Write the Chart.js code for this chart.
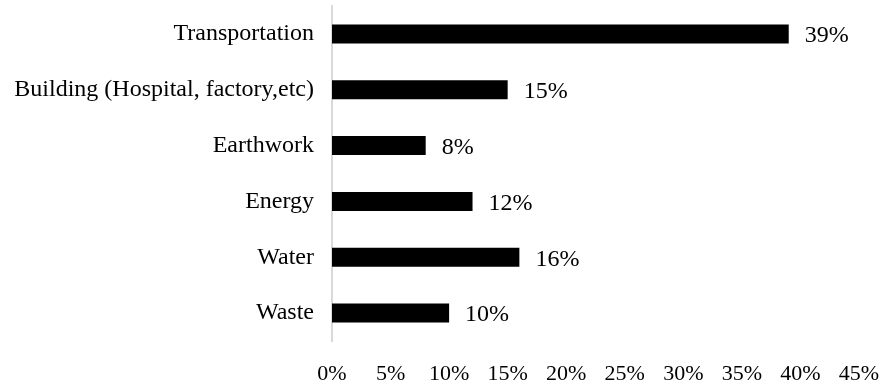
<!DOCTYPE html>
<html>
<head>
<meta charset="utf-8">
<script src="https://cdn.jsdelivr.net/npm/chart.js@4/dist/chart.umd.min.js"></script>
<style>
  html, body { margin: 0; padding: 0; background: #ffffff; }
  #wrap { width: 880px; height: 386px; position: relative; }
</style>
</head>
<body>
<div id="wrap"><canvas id="chart"></canvas></div>
<script>
const categories = [
  "Transportation",
  "Building (Hospital, factory,etc)",
  "Earthwork",
  "Energy",
  "Water",
  "Waste"
];
const shares = [39, 15, 8, 12, 16, 10];
const xTicks = [0, 5, 10, 15, 20, 25, 30, 35, 40, 45];

const FONT = "'Liberation Serif', 'Times New Roman', serif";

// writes the percentage just past the end of each bar
const barValueLabels = {
  id: "barValueLabels",
  afterDatasetsDraw(chart) {
    const ctx = chart.ctx;
    const meta = chart.getDatasetMeta(0);
    ctx.save();
    ctx.font = "24px " + FONT;
    ctx.fillStyle = "#000000";
    ctx.textAlign = "left";
    ctx.textBaseline = "middle";
    meta.data.forEach((bar, i) => {
      ctx.fillText(shares[i] + "%", bar.x + 16, bar.y + 2);
    });
    ctx.restore();
  }
};

new Chart(document.getElementById("chart"), {
  type: "bar",
  data: {
    labels: categories,
    datasets: [
      {
        data: shares,
        backgroundColor: "#000000",
        borderWidth: 0,
        categoryPercentage: 1,
        barPercentage: 0.34
      }
    ]
  },
  options: {
    indexAxis: "y",
    responsive: true,
    maintainAspectRatio: false,
    animation: false,
    layout: {
      autoPadding: false,
      padding: { top: 6, right: 21, left: 0, bottom: 0 }
    },
    plugins: {
      legend: { display: false },
      tooltip: { enabled: false }
    },
    scales: {
      x: {
        min: 0,
        max: 45,
        afterBuildTicks(scale) {
          scale.ticks = xTicks.map((v) => ({ value: v }));
        },
        afterFit(scale) {
          scale.height = 45;
          scale.paddingLeft = 0;
          scale.paddingRight = 0;
        },
        ticks: {
          callback: (value) => value + "%",
          color: "#000000",
          font: { family: FONT, size: 22 },
          padding: 20,
          maxRotation: 0,
          autoSkip: false
        },
        grid: { display: false, drawTicks: false },
        border: { display: false }
      },
      y: {
        afterFit(scale) {
          scale.width = 332;
          scale.paddingTop = 0;
          scale.paddingBottom = 0;
        },
        ticks: {
          color: "#000000",
          font: { family: FONT, size: 24 },
          padding: 18
        },
        grid: { display: false, drawTicks: false },
        border: { display: true, color: "#d9d9d9", width: 2 }
      }
    }
  },
  plugins: [barValueLabels]
});
</script>
</body>
</html>
